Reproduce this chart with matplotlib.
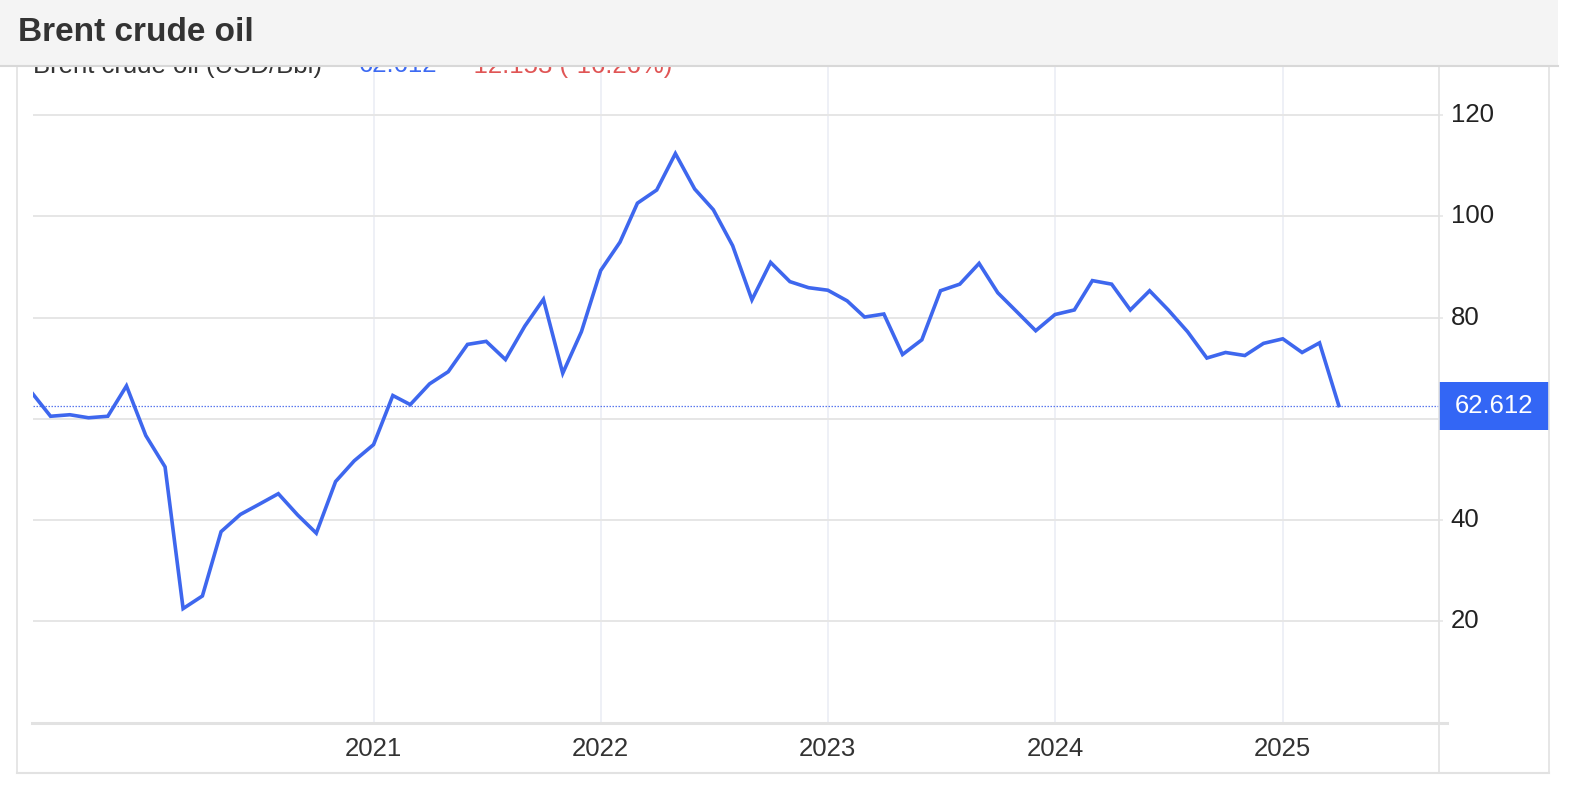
import pandas as pd
import numpy as np
import matplotlib
matplotlib.use('Agg')
import matplotlib.pyplot as plt
import matplotlib.transforms as mtransforms
from matplotlib.patches import Rectangle
from matplotlib.lines import Line2D

plt.rcParams['font.family'] = ['Liberation Sans', 'DejaVu Sans']

# Brent crude oil, monthly (USD/Bbl), Jul 2019 - Apr 2025
start_month = '2019-07-01'
prices = [65.3, 60.5, 60.8, 60.2, 60.5, 66.5, 56.7, 50.5, 22.5, 25.0,
          37.7, 41.1, 43.1, 45.2, 41.0, 37.4, 47.6, 51.7, 54.9, 64.6,
          62.8, 66.9, 69.3, 74.7, 75.3, 71.7, 78.3, 83.6, 69.0, 77.2,
          89.3, 94.9, 102.6, 105.2, 112.4, 105.4, 101.3, 94.2, 83.5, 90.9,
          87.1, 85.9, 85.4, 83.3, 80.1, 80.7, 72.7, 75.6, 85.3, 86.6,
          90.7, 84.9, 81.1, 77.4, 80.6, 81.5, 87.3, 86.6, 81.5, 85.3,
          81.5, 77.2, 72.0, 73.1, 72.5, 74.9, 75.8, 73.1, 75.0, 62.612]
last_price = 62.612
year_ticks = [2021, 2022, 2023, 2024, 2025]
y_ticks = [20, 40, 60, 80, 100, 120]
y_labels = ['20', '40', '', '80', '100', '120']  # 60 sits under the price box
legend_parts = [('Brent crude oil (USD/Bbl)', '#333333'),
                ('62.612', '#3d6af2'),
                ('-12.153 (-16.26%)', '#e05555')]

months = pd.date_range(start_month, periods=len(prices), freq='MS')

W, H = 1585, 795
fig = plt.figure(figsize=(W / 100, H / 100), dpi=100)
fig.patch.set_facecolor('white')

def fx(px):
    return px / W

def fy(py):
    return 1 - py / H

LINE_BLUE = '#3e67ee'
GRID = '#e6e6e6'

ax = fig.add_axes([fx(32.5), fy(722.5), fx(1439) - fx(32.5), fy(67) - fy(722.5)])
ax.plot(months, prices, color=LINE_BLUE, lw=2.6, zorder=3, solid_joinstyle='miter')
ax.axhline(last_price, color='#5a78ee', lw=0.9, ls=(0, (1.2, 1.2)), zorder=2)

ax.set_ylim(0, 129.5)
ax.set_xlim(pd.Timestamp('2019-07-03'), pd.Timestamp('2025-09-09'))
for s in ax.spines.values():
    s.set_visible(False)

ax.yaxis.tick_right()
ax.set_yticks(y_ticks)
ax.set_yticklabels(y_labels)
ax.tick_params(axis='y', length=3, width=1.2, color=GRID, pad=5.5,
               labelsize=18.5, labelcolor='#222222')
# labels sit a touch above their grid lines
lift = mtransforms.ScaledTranslation(0, 2.5 / 100, fig.dpi_scale_trans)
for t in ax.yaxis.get_major_ticks():
    t.label2.set_transform(t.label2.get_transform() + lift)
ax.grid(axis='y', color=GRID, lw=1.4)

ax.set_xticks([pd.Timestamp(f'{y}-01-01') for y in year_ticks])
ax.set_xticklabels([str(y) for y in year_ticks])
ax.tick_params(axis='x', length=0, pad=10.5, labelsize=18.5, labelcolor='#333333')
ax.grid(axis='x', color='#eef0f6', lw=1.4)
ax.set_axisbelow(True)

# current price box on the right axis
blend = mtransforms.blended_transform_factory(ax.transAxes, ax.transData)
box_w = 110 / (1439 - 32.5)
box_h = 48 / 5.06
ax.add_patch(Rectangle((1.0, last_price - box_h / 2), box_w, box_h, transform=blend,
                       facecolor='#3366f5', edgecolor='none', clip_on=False, zorder=5))
ax.text(1.0 + box_w / 2, last_price, f'{last_price:.3f}', transform=blend,
        ha='center', va='center', color='white', fontsize=18.5, zorder=6)

# panel frame lines
frame = '#e2e2e2'
fig.add_artist(Line2D([fx(32), fx(1447)], [fy(723), fy(723)], color=frame, lw=2.2))
fig.add_artist(Line2D([fx(1439), fx(1439)], [fy(67), fy(773)], color=frame, lw=1.2))
fig.add_artist(Line2D([fx(17), fx(17)], [fy(67), fy(773)], color=frame, lw=1.2))
fig.add_artist(Line2D([fx(1549), fx(1549)], [fy(67), fy(773)], color=frame, lw=1.2))
fig.add_artist(Line2D([fx(17), fx(1549)], [fy(773), fy(773)], color=frame, lw=1.5))

# legend line, mostly hidden under the header
legend_x = [33, 359, 465]
for (txt, col), lx in zip(legend_parts, legend_x):
    fig.text(fx(lx), fy(72.5), txt, color=col, fontsize=18.5, va='baseline', zorder=5)

# header bar
fig.add_artist(Rectangle((0, fy(66)), fx(1558), 1 - fy(66), transform=fig.transFigure,
                         facecolor='#f4f4f4', edgecolor='none', zorder=10))
fig.add_artist(Line2D([0, fx(1558)], [fy(66), fy(66)], color='#d8d8d8', lw=1.5, zorder=11))
fig.text(fx(18), fy(32.5), 'Brent crude oil', fontsize=24, fontweight='bold',
         color='#333333', va='center', ha='left', zorder=12)

fig.savefig('out.png', dpi=100)
